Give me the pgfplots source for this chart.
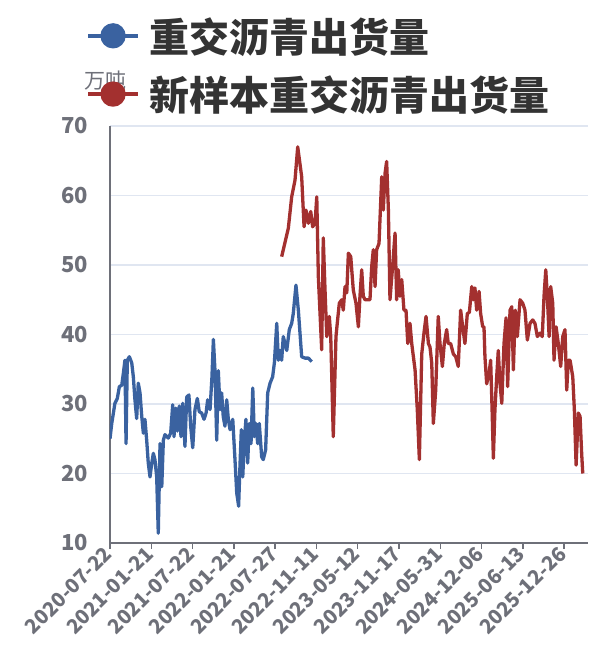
\documentclass[border=0pt]{standalone}
\usepackage{pgfplots}
\pgfplotsset{compat=1.18}
\usepackage{fontspec}
\newfontfamily\cjk{Noto Sans CJK SC}
\definecolor{bl}{HTML}{3A62A0}
\definecolor{rd}{HTML}{A3302F}
\definecolor{axc}{HTML}{6E7079}
\definecolor{grd}{HTML}{E0E6F1}
\definecolor{txt}{HTML}{333333}
\begin{document}
\begin{tikzpicture}
\begin{axis}[
 at={(0,0)}, anchor=south west,
 scale only axis, width=478pt, height=417pt,
 xmin=0, xmax=301, ymin=10, ymax=70,
 ytick={10,20,...,70},
 xtick={0,26,...,286},
 xticklabels={2020-07-22,2021-01-21,2021-07-22,2022-01-21,2022-07-27,2022-11-11,2023-05-12,2023-11-17,2024-05-31,2024-12-06,2025-06-13,2025-12-26},
 axis x line*=bottom, axis y line*=left,
 axis line style={axc, line width=1.5pt, -},
 ymajorgrids, grid style={grd, line width=1.2pt},
 ytick style={draw=none},
 xtick style={axc, line width=1.5pt},
 tick align=outside, major tick length=6pt,
 /pgf/number format/assume math mode=true,
 x tick label style={rotate=45, anchor=east, font=\cjk\bfseries\fontsize{20}{22}\selectfont, text=axc, inner sep=2pt},
 y tick label style={font=\cjk\bfseries\fontsize{22}{24}\selectfont, text=axc, inner sep=2pt, xshift=-14pt},
 ylabel={万吨},
 ylabel style={rotate=-90, at={(axis description cs:-0.010,1.108)}, anchor=center, font=\cjk\fontsize{21}{24}\selectfont, text=axc},
 legend style={at={(-0.050,1.265)}, anchor=north west, draw=none, fill=none, font=\cjk\bfseries\fontsize{40}{46}\selectfont, text=txt, row sep=18pt, inner sep=0pt, /tikz/every odd column/.append style={column sep=8pt}},
 legend cell align=left,
]
\addplot[bl, line width=3.3pt, line join=round, no markers,
 legend image code/.code={\draw[bl, line width=3.5pt] (0pt,0pt) -- (50pt,0pt); \fill[bl] (25pt,0pt) circle (11pt);}]
coordinates {
(0,25.0)(1.1,27.2)(3.1,30.1)(4.6,30.8)(5.9,32.5)(7.4,32.7)(8.4,34.4)(9.4,36.3)(10.1,24.3)(10.9,36.3)(12.2,36.8)(13.7,35.9)(14.7,33.9)(15.7,30.6)(16.8,27.9)(17.8,33.0)(18.9,31.6)(20.0,28.2)(21.0,25.8)(22.0,27.8)(23.1,24.8)(24.1,21.5)(25.2,19.5)(26.3,21.5)(27.3,22.9)(28.3,22.0)(29.4,19.5)(30.4,11.4)(31.5,24.3)(32.6,18.1)(33.6,24.8)(34.6,25.6)(36.7,25.1)(38.2,25.8)(39.5,29.9)(40.3,25.3)(41.4,29.4)(42.4,26.1)(43.6,29.7)(44.7,25.3)(45.8,30.1)(47.2,23.9)(48.3,31.0)(49.7,31.3)(50.8,26.8)(52.1,23.7)(53.5,29.2)(55.0,30.8)(56.2,28.9)(57.7,28.7)(59.2,27.8)(60.5,28.7)(61.5,30.6)(63.0,29.2)(64.2,33.9)(65.1,39.3)(66.1,34.8)(67.2,24.8)(68.2,34.8)(69.3,29.2)(70.3,31.6)(71.3,28.2)(72.4,26.8)(73.5,30.6)(74.5,27.8)(75.6,26.3)(77.3,27.8)(78.7,22.0)(79.8,17.2)(81.0,15.3)(81.9,21.5)(82.7,26.3)(83.6,19.5)(84.6,24.8)(85.6,27.8)(86.7,21.5)(87.7,27.2)(88.8,24.3)(89.9,32.3)(90.9,25.3)(91.9,27.2)(93.0,24.3)(94.0,27.2)(95.5,22.4)(96.5,22.0)(98.0,23.4)(99.3,31.6)(100.8,33.0)(102.4,33.9)(103.5,35.9)(105.0,41.6)(106.0,36.3)(107.1,37.7)(108.1,36.3)(109.1,39.7)(110.2,38.7)(111.3,37.7)(112.9,40.7)(114.4,41.6)(115.4,43.0)(117.1,47.1)(118.6,43.5)(120.7,36.8)(122.8,36.6)(124.9,36.6)(127.0,36.1)
};
\addlegendentry{重交沥青出货量}
\addplot[rd, line width=3.3pt, line join=round, no markers,
 legend image code/.code={\draw[rd, line width=3.5pt] (0pt,0pt) -- (50pt,0pt); \fill[rd] (25pt,0pt) circle (11pt);}]
coordinates {
(108.1,51.2)(112.3,55.3)(114.4,59.8)(116.5,62.2)(118.2,67.0)(120.7,62.7)(122.2,55.5)(123.4,57.9)(124.9,56.0)(126.4,57.7)(127.6,55.5)(129.1,56.0)(130.2,59.8)(131.2,48.3)(133.3,37.8)(134.3,53.9)(135.4,46.4)(136.5,39.7)(138.1,42.6)(139.0,39.7)(140.6,25.3)(142.3,39.7)(143.1,41.6)(144.4,44.5)(145.9,45.0)(146.9,43.5)(148.0,46.9)(149.1,46.0)(150.1,51.7)(151.6,51.2)(153.2,46.4)(154.9,44.5)(156.4,41.1)(157.4,45.5)(158.5,49.3)(159.5,45.5)(160.6,45.0)(162.0,45.0)(163.7,45.0)(164.8,49.8)(165.8,52.2)(166.9,46.9)(167.9,52.2)(169.4,53.1)(171.1,62.7)(172.1,57.9)(173.2,63.2)(174.2,64.9)(175.3,57.9)(176.3,45.0)(177.8,49.3)(179.5,54.6)(180.5,45.0)(181.5,49.3)(182.6,45.5)(183.7,47.9)(185.1,43.5)(186.4,43.5)(187.5,38.7)(188.9,41.6)(190.0,38.7)(192.1,34.9)(193.5,29.2)(194.8,22.0)(196.3,37.2)(197.7,40.2)(199.0,42.6)(200.5,38.7)(201.5,38.2)(202.6,35.9)(203.6,27.2)(205.1,32.0)(206.7,42.6)(207.8,38.7)(209.3,35.4)(210.5,38.7)(212.0,40.7)(213.0,38.7)(214.5,38.7)(216.2,37.2)(217.7,36.8)(219.3,35.4)(220.8,43.5)(222.1,41.1)(223.5,38.7)(225.0,43.0)(226.3,43.2)(227.8,46.9)(228.8,45.0)(229.8,46.7)(230.9,43.5)(232.4,46.2)(233.4,43.0)(234.7,41.1)(235.5,41.1)(236.1,36.8)(237.2,32.9)(238.7,34.4)(239.7,36.3)(240.6,29.2)(241.4,22.2)(242.4,29.2)(243.5,33.9)(244.5,37.7)(245.6,32.9)(246.7,30.1)(248.1,38.7)(249.4,42.4)(250.4,32.5)(251.9,43.5)(253.0,44.0)(254.0,34.9)(255.2,43.5)(256.5,39.7)(258.2,45.0)(259.9,44.5)(261.3,43.5)(262.8,39.2)(264.5,41.6)(266.2,42.1)(267.6,41.6)(269.1,39.7)(270.8,40.2)(272.2,39.7)(273.3,45.5)(274.4,49.3)(275.4,45.5)(276.5,39.7)(277.5,46.9)(278.8,44.5)(279.6,36.3)(280.9,41.1)(282.3,38.7)(283.8,35.4)(285.1,39.7)(286.5,40.7)(287.6,32.0)(288.6,36.3)(289.7,36.3)(291.4,33.9)(292.4,29.2)(293.5,21.2)(294.9,28.7)(296.0,28.2)(297.0,22.9)(297.7,20.0)
};
\addlegendentry{新样本重交沥青出货量}
\end{axis}
\pgfresetboundingbox
\useasboundingbox (-110pt,-125pt) rectangle (478pt,543pt);
\end{tikzpicture}
\end{document}
